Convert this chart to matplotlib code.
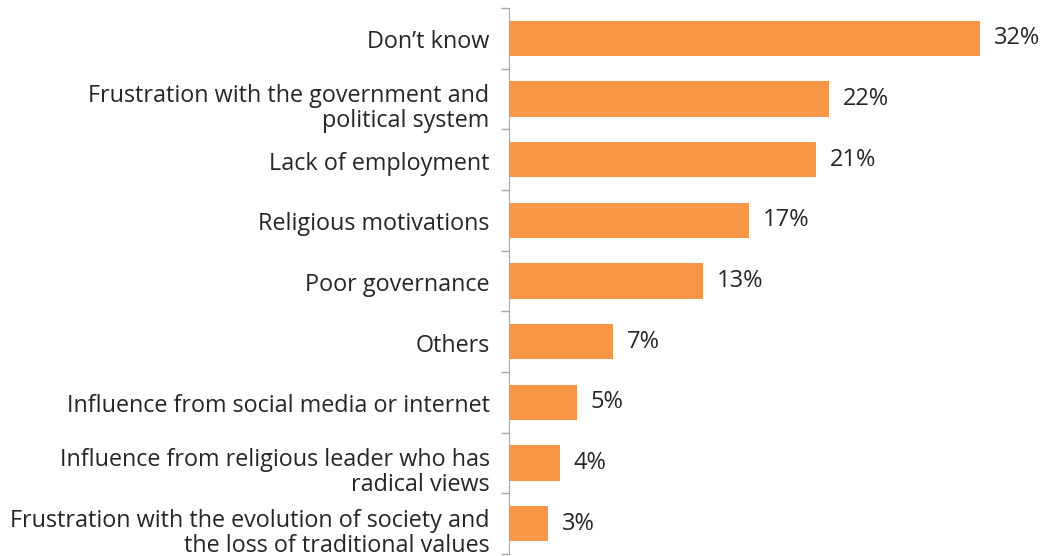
import matplotlib.pyplot as plt
import matplotlib.transforms as mtransforms
import numpy as np

categories = [
    "Don\u2019t know",
    "Frustration with the government and\npolitical system",
    "Lack of employment",
    "Religious motivations",
    "Poor governance",
    "Others",
    "Influence from social media or internet",
    "Influence from religious leader who has\nradical views",
    "Frustration with the evolution of society and\nthe loss of traditional values",
]
values = [32.5, 22.1, 21.2, 16.6, 13.4, 7.2, 4.7, 3.5, 2.7]
value_labels = ["32%", "22%", "21%", "17%", "13%", "7%", "5%", "4%", "3%"]

plt.rcParams['font.family'] = ['Open Sans', 'DejaVu Sans']

fig = plt.figure(figsize=(10.49, 5.56), dpi=100)
ax = fig.add_axes([509 / 1049, 2 / 556, (1016 - 509) / 1049, (548 - 2) / 556])

y = np.arange(len(categories))
ax.barh(y, values, height=0.58, color='#F79646')
ax.set_ylim(len(categories) - 0.5, -0.5)
ax.set_xlim(0, 35)

for yi, v, lab in zip(y, values, value_labels):
    ax.text(v + 0.95, yi, lab, va='center', ha='left', fontsize=17, color='#262626')

ax.set_yticks(y)
ax.set_yticklabels(categories, fontsize=16.8, color='#262626', linespacing=1.05)
ax.set_yticks(np.arange(len(categories) + 1) - 0.5, minor=True)
ax.tick_params(axis='y', which='major', length=0, pad=14)
ax.tick_params(axis='y', which='minor', length=6, color='#A6A6A6', width=1)
ax.set_xticks([])
for s in ['top', 'right', 'bottom']:
    ax.spines[s].set_visible(False)
ax.spines['left'].set_color('#A6A6A6')

# two-line labels sit a little low in the original
for lbl in ax.get_yticklabels():
    shift = -6 if '\n' in lbl.get_text() else -1
    lbl.set_transform(lbl.get_transform() +
                      mtransforms.ScaledTranslation(0, shift / 100, fig.dpi_scale_trans))

fig.savefig('out.png', dpi=100)
